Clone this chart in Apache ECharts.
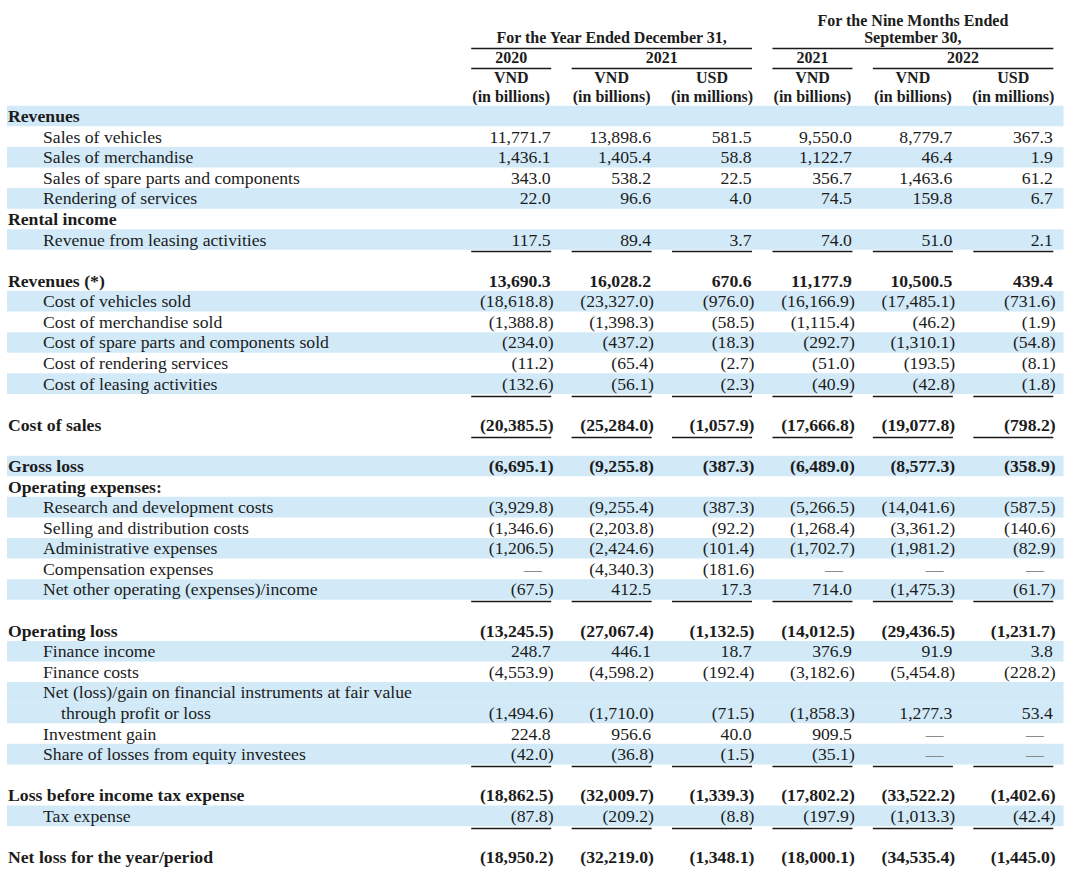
<!DOCTYPE html>
<html><head><meta charset="utf-8">
<script src="https://cdn.jsdelivr.net/npm/echarts@6/dist/echarts.min.js"></script>
<style>html,body{margin:0;padding:0;background:#fff}#c{width:1080px;height:874px}</style>
</head><body><div id="c"></div>
<script>
const DASH = '—';
const rowLabels = [
  'Revenues', 'Sales of vehicles', 'Sales of merchandise', 'Sales of spare parts and components',
  'Rendering of services', 'Rental income', 'Revenue from leasing activities', '',
  'Revenues (*)', 'Cost of vehicles sold', 'Cost of merchandise sold', 'Cost of spare parts and components sold',
  'Cost of rendering services', 'Cost of leasing activities', '', 'Cost of sales', '',
  'Gross loss', 'Operating expenses:', 'Research and development costs', 'Selling and distribution costs',
  'Administrative expenses', 'Compensation expenses', 'Net other operating (expenses)/income', '',
  'Operating loss', 'Finance income', 'Finance costs',
  'Net (loss)/gain on financial instruments at fair value', 'through profit or loss',
  'Investment gain', 'Share of losses from equity investees', '',
  'Loss before income tax expense', 'Tax expense', '', 'Net loss for the year/period'
];
// h = section/total line, i = item line, c = continuation of the item above, b = blank
const rowKinds = ['h','i','i','i','i','h','i','b','h','i','i','i','i','i','b','h','b','h','h','i','i','i','i','i','b','h','i','i','i','c','i','i','b','h','i','b','h'];
const boldRows = [0,5,8,15,17,18,25,33,36];
const shadedRows = [0,2,4,6,9,11,13,17,19,21,23,26,28,29,31,34];
const ruleAfterRows = [6,13,15,23,31,34];

const colCurrency = ['VND','VND','USD','VND','VND','USD'];
const colUnit = ['(in billions)','(in billions)','(in millions)','(in billions)','(in billions)','(in millions)'];
const periodHeads = [
  {from:0, to:2, lines:['For the Year Ended December 31,']},
  {from:3, to:5, lines:['For the Nine Months Ended','September 30,']}
];
const yearHeads = [
  {from:0, to:0, text:'2020'}, {from:1, to:2, text:'2021'},
  {from:3, to:3, text:'2021'}, {from:4, to:5, text:'2022'}
];

const fy2020VND = [null,11771.7,1436.1,343.0,22.0,null,117.5,null,13690.3,-18618.8,-1388.8,-234.0,-11.2,-132.6,null,-20385.5,null,-6695.1,null,-3929.8,-1346.6,-1206.5,DASH,-67.5,null,-13245.5,248.7,-4553.9,null,-1494.6,224.8,-42.0,null,-18862.5,-87.8,null,-18950.2];
const fy2021VND = [null,13898.6,1405.4,538.2,96.6,null,89.4,null,16028.2,-23327.0,-1398.3,-437.2,-65.4,-56.1,null,-25284.0,null,-9255.8,null,-9255.4,-2203.8,-2424.6,-4340.3,412.5,null,-27067.4,446.1,-4598.2,null,-1710.0,956.6,-36.8,null,-32009.7,-209.2,null,-32219.0];
const fy2021USD = [null,581.5,58.8,22.5,4.0,null,3.7,null,670.6,-976.0,-58.5,-18.3,-2.7,-2.3,null,-1057.9,null,-387.3,null,-387.3,-92.2,-101.4,-181.6,17.3,null,-1132.5,18.7,-192.4,null,-71.5,40.0,-1.5,null,-1339.3,-8.8,null,-1348.1];
const nm2021VND = [null,9550.0,1122.7,356.7,74.5,null,74.0,null,11177.9,-16166.9,-1115.4,-292.7,-51.0,-40.9,null,-17666.8,null,-6489.0,null,-5266.5,-1268.4,-1702.7,DASH,714.0,null,-14012.5,376.9,-3182.6,null,-1858.3,909.5,-35.1,null,-17802.2,-197.9,null,-18000.1];
const nm2022VND = [null,8779.7,46.4,1463.6,159.8,null,51.0,null,10500.5,-17485.1,-46.2,-1310.1,-193.5,-42.8,null,-19077.8,null,-8577.3,null,-14041.6,-3361.2,-1981.2,DASH,-1475.3,null,-29436.5,91.9,-5454.8,null,1277.3,DASH,DASH,null,-33522.2,-1013.3,null,-34535.4];
const nm2022USD = [null,367.3,1.9,61.2,6.7,null,2.1,null,439.4,-731.6,-1.9,-54.8,-8.1,-1.8,null,-798.2,null,-358.9,null,-587.5,-140.6,-82.9,DASH,-61.7,null,-1231.7,3.8,-228.2,null,53.4,DASH,DASH,null,-1402.6,-42.4,null,-1445.0];
const valueColumns = [fy2020VND, fy2021VND, fy2021USD, nm2021VND, nm2022VND, nm2022USD];

// ---------- styling / layout ----------
const FONT = '"Liberation Serif", "Times New Roman", serif';
const BODY = 17.7, HEAD = 16;
const TEXT = '#1c1c1c', BLUE = '#d2eaf8', RULE = '#1a1a1a';
const measure = (() => { const c = document.createElement('canvas').getContext('2d');
  return (t, bold) => { c.font = (bold ? 'bold ' : '') + BODY + 'px ' + FONT; return c.measureText(t).width; }; })();

const rowCats = rowLabels.map((_, i) => 'r' + i);
const colCats = colCurrency.map((_, i) => 'c' + i);
const fmt = v => Math.abs(v).toLocaleString('en-US', {minimumFractionDigits:1, maximumFractionDigits:1});

const cells = [];
valueColumns.forEach((arr, c) => arr.forEach((v, r) => {
  if (v === null) return;
  const bold = boldRows.includes(r);
  let text, kind;
  if (v === DASH) { text = DASH; kind = 'dash'; }
  else if (v < 0) { text = '(' + fmt(v) + ')'; kind = 'neg'; }
  else { text = fmt(v); kind = 'pos'; }
  cells.push({c, r, text, kind, bold});
}));
const rules = [];
ruleAfterRows.forEach(r => colCats.forEach((_, c) => rules.push([c, r])));

const ROW0 = 116, ROWH = 741 / 36;
const gridTop = ROW0 - ROWH / 2, gridH = ROWH * rowLabels.length;
const HALF = 40, RIGHT = 39.5;

const chart = echarts.init(document.getElementById('c'), null, {renderer: 'svg'});
chart.setOption({
  animation: false,
  backgroundColor: '#fff',
  grid: [
    {left: 7, width: 454, top: gridTop, height: gridH},
    {left: 461, width: 602.5, top: gridTop, height: gridH}
  ],
  xAxis: [
    {type: 'category', gridIndex: 0, data: ['label'], show: false},
    {type: 'category', gridIndex: 1, data: colCats, position: 'top',
     axisLine: {show: false}, axisTick: {show: false}, splitLine: {show: false},
     axisLabel: {interval: 0, margin: 0, color: TEXT, fontFamily: FONT, fontWeight: 'bold',
       fontSize: HEAD, lineHeight: 19,
       formatter: (v, i) => colCurrency[i] + '\n' + colUnit[i]}}
  ],
  yAxis: [
    {type: 'category', gridIndex: 0, data: rowCats, inverse: true, show: false},
    {type: 'category', gridIndex: 1, data: rowCats, inverse: true, show: false}
  ],
  series: [
    // row shading, label area
    {type: 'custom', xAxisIndex: 0, yAxisIndex: 0, z: 1, silent: true,
     data: shadedRows.map(r => [0, r]),
     renderItem: (params, api) => {
       const p = api.coord([0, api.value(1)]); const h = api.size([0, 1])[1];
       const cs = params.coordSys;
       return {type: 'rect', shape: {x: cs.x, y: p[1] - h / 2, width: cs.width, height: h}, style: {fill: BLUE}};
     }},
    // row shading, value area
    {type: 'custom', xAxisIndex: 1, yAxisIndex: 1, z: 1, silent: true,
     data: shadedRows.map(r => [0, r]),
     renderItem: (params, api) => {
       const p = api.coord([0, api.value(1)]); const h = api.size([0, 1])[1];
       const cs = params.coordSys;
       return {type: 'rect', shape: {x: cs.x, y: p[1] - h / 2, width: cs.width, height: h}, style: {fill: BLUE}};
     }},
    // row labels
    {type: 'custom', xAxisIndex: 0, yAxisIndex: 0, z: 3, silent: true,
     data: rowLabels.map((_, r) => [0, r]),
     renderItem: (params, api) => {
       const r = api.value(1); const kind = rowKinds[r];
       if (kind === 'b') return null;
       const p = api.coord([0, r]);
       const indent = kind === 'h' ? 1 : (kind === 'i' ? 36 : 54);
       const bold = boldRows.includes(r);
       return {type: 'text', style: {text: rowLabels[r], x: params.coordSys.x + indent, y: p[1],
         align: 'left', textAlign: 'left', verticalAlign: 'middle', textVerticalAlign: 'middle',
         fontFamily: FONT, fontSize: BODY, fontWeight: bold ? 'bold' : 'normal', fill: TEXT}};
     }},
    // values
    {type: 'custom', xAxisIndex: 1, yAxisIndex: 1, z: 3, silent: true,
     data: cells.map(d => [d.c, d.r]),
     renderItem: (params, api) => {
       const d = cells[params.dataIndex];
       const p = api.coord([d.c, d.r]);
       const paren = measure(')', d.bold);
       let x = p[0] + RIGHT;
       if (d.kind === 'neg') x += paren - 3;
       if (d.kind === 'dash') x -= 9;
       return {type: 'text', style: {text: d.text, x: x, y: p[1],
         align: 'right', textAlign: 'right', verticalAlign: 'middle', textVerticalAlign: 'middle',
         fontFamily: FONT, fontSize: BODY, fontWeight: d.bold ? 'bold' : 'normal',
         fill: d.kind === 'dash' ? '#8a8a8a' : TEXT}};
     }},
    // total rules
    {type: 'custom', xAxisIndex: 1, yAxisIndex: 1, z: 4, silent: true,
     data: rules,
     renderItem: (params, api) => {
       const p = api.coord([api.value(0), api.value(1)]);
       const y = Math.round(p[1] + 12) + 0.5;
       return {type: 'line', shape: {x1: p[0] - HALF, y1: y, x2: p[0] + HALF, y2: y},
         style: {stroke: RULE, lineWidth: 1.4}};
     }},
    // column group headers
    {type: 'custom', xAxisIndex: 1, yAxisIndex: 1, z: 4, silent: true,
     data: periodHeads.map(h => [h.from, 0]).concat(yearHeads.map(h => [h.from, 0])),
     renderItem: (params, api) => {
       const i = params.dataIndex;
       const isPeriod = i < periodHeads.length;
       const h = isPeriod ? periodHeads[i] : yearHeads[i - periodHeads.length];
       const a = api.coord([h.from, 0]), b = api.coord([h.to, 0]);
       const x1 = a[0] - HALF, x2 = b[0] + HALF, cx = (x1 + x2) / 2, y0 = a[1];
       const children = [];
       const txt = (t, y) => ({type: 'text', style: {text: t, x: cx, y: y,
         align: 'center', textAlign: 'center', verticalAlign: 'middle', textVerticalAlign: 'middle',
         fontFamily: FONT, fontSize: HEAD, fontWeight: 'bold', fill: TEXT}});
       if (isPeriod) {
         const n = h.lines.length;
         h.lines.forEach((t, k) => children.push(txt(t, y0 - 79 - (n - 1 - k) * 17)));
         const ly = Math.round(y0 - 68) + 0.5;
         children.push({type: 'line', shape: {x1, y1: ly, x2, y2: ly}, style: {stroke: RULE, lineWidth: 1.5}});
       } else {
         children.push(txt(h.text, y0 - 59));
         const ly = Math.round(y0 - 48) + 0.5;
         children.push({type: 'line', shape: {x1, y1: ly, x2, y2: ly}, style: {stroke: RULE, lineWidth: 1.5}});
       }
       return {type: 'group', children};
     }}
  ]
});
</script></body></html>
